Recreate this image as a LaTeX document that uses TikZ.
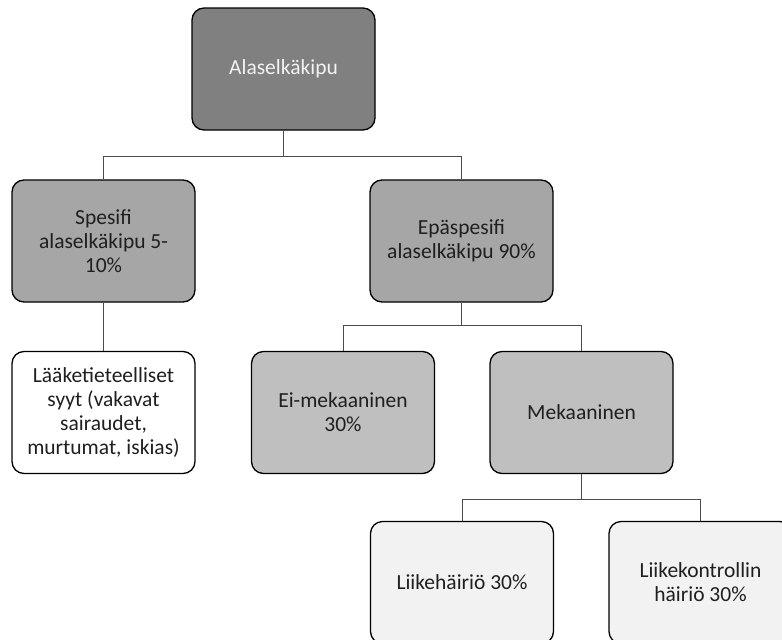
\documentclass[tikz,border=0pt]{standalone}
\usepackage{fontspec}
\setmainfont{Carlito}
\begin{document}
\begin{tikzpicture}[x=1pt,y=1pt,
  box/.style={draw=black, line width=1.3pt, rounded corners=12pt, minimum width=183pt, minimum height=122pt, align=center, inner sep=2pt, font=\fontsize{21.5}{24}\selectfont, text=black!88},
  lvlA/.style={box, fill=black!50, text=black!5},
  lvlB/.style={box, fill=black!35},
  lvlC/.style={box, fill=black!25},
  lvlW/.style={box, fill=white},
  lvlD/.style={box, fill=black!5},
  conn/.style={draw=black!70, line width=0.9pt}]
\clip (0,0) rectangle (782,-640);
\useasboundingbox (0,0) rectangle (782,-640);
\node[lvlA] (root) at (283.5,-69) {Alaselkäkipu};
\node[lvlB] (spes) at (103.5,-241) {Spesifi\\alaselkäkipu 5-\\10\%};
\node[lvlB] (epa) at (461.5,-241) {Epäspesifi\\alaselkäkipu 90\%};
\node[lvlW] (laake) at (103.5,-412.5) {Lääketieteelliset\\syyt (vakavat\\sairaudet,\\murtumat, iskias)};
\node[lvlC] (ei) at (343,-412.5) {Ei-mekaaninen\\30\%};
\node[lvlC] (meka) at (581.5,-412.5) {Mekaaninen};
\node[lvlD] (liikeh) at (462,-582.5) {Liikehäiriö 30\%};
\node[lvlD] (liikek) at (700.5,-582.5) {Liikekontrollin\\häiriö 30\%};
\draw[conn] (root.south) -- ++(0,-26) -| (spes.north);
\draw[conn] (root.south) -- ++(0,-26) -| (epa.north);
\draw[conn] (spes.south) -- (laake.north);
\draw[conn] (epa.south) -- ++(0,-23) -| (ei.north);
\draw[conn] (epa.south) -- ++(0,-23) -| (meka.north);
\draw[conn] (meka.south) -- ++(0,-25) -| (liikeh.north);
\draw[conn] (meka.south) -- ++(0,-25) -| (liikek.north);
\end{tikzpicture}
\end{document}
